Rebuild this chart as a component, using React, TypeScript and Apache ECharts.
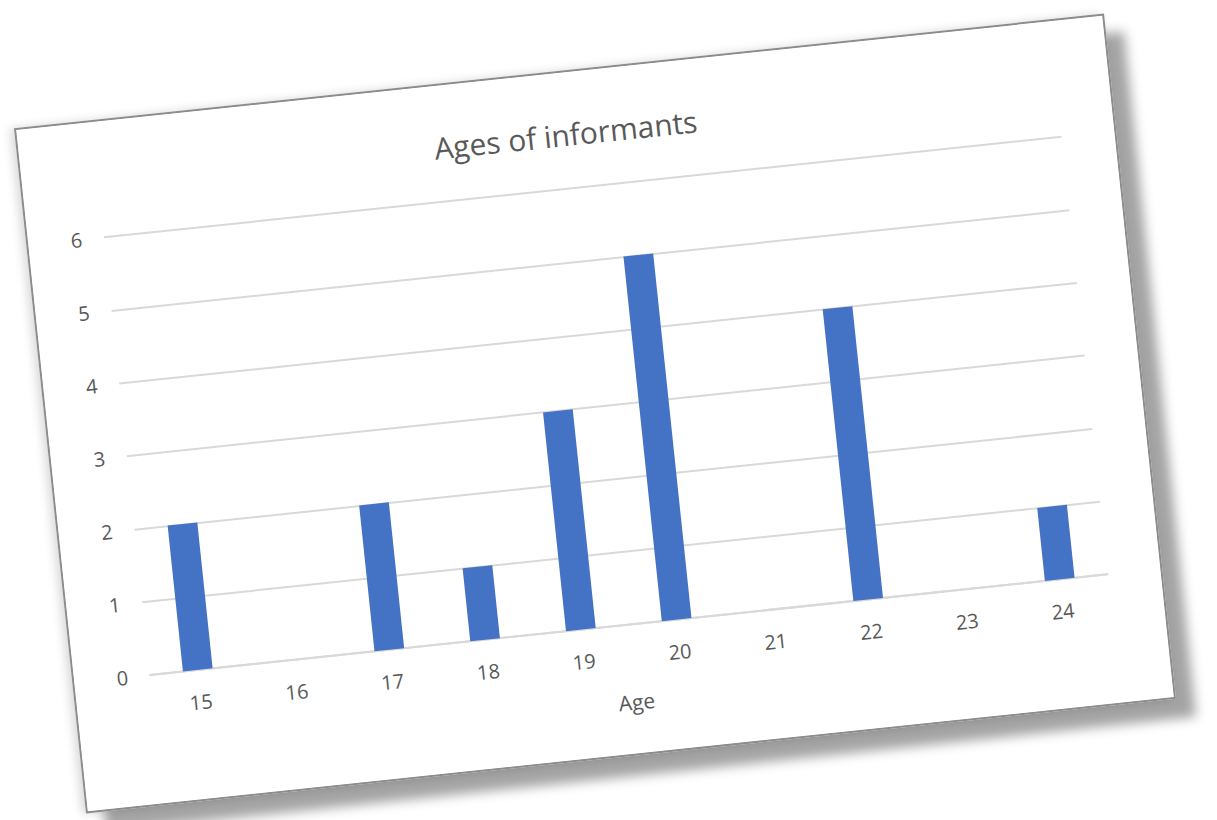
import React, { useEffect, useRef } from "react";
import * as echarts from "echarts";

const ages = ["15", "16", "17", "18", "19", "20", "21", "22", "23", "24"];
const counts = [2, 0, 2, 1, 3, 5, 0, 4, 0, 1];
const chartTitle = "Ages of informants";
const xName = "Age";

const FONT = "'Open Sans', 'Noto Sans', sans-serif";
const TEXT = "#595959";

export default function App() {
  const ref = useRef<HTMLDivElement>(null);
  useEffect(() => {
    if (!ref.current) return;
    const chart = echarts.init(ref.current, null, { renderer: "svg" });
    chart.setOption({
      animation: false,
      backgroundColor: "#ffffff",
      title: {
        text: chartTitle,
        left: "center",
        top: 42,
        textStyle: { fontFamily: FONT, fontSize: 30, fontWeight: "normal", color: TEXT },
      },
      grid: { left: 76, right: 53, top: 116, bottom: 129, containLabel: false },
      xAxis: {
        type: "category",
        data: ages,
        name: xName,
        nameLocation: "middle",
        nameGap: 67,
        nameTextStyle: { fontFamily: FONT, fontSize: 21, color: TEXT },
        axisLine: { show: true, lineStyle: { color: "#d9d9d9", width: 2 } },
        axisTick: { show: false },
        axisLabel: { fontFamily: FONT, fontSize: 20, color: TEXT, margin: 22 },
      },
      yAxis: {
        type: "value",
        min: 0,
        max: 6,
        interval: 1,
        axisLine: { show: false },
        axisTick: { show: false },
        axisLabel: { fontFamily: FONT, fontSize: 20, color: TEXT, margin: 22 },
        splitLine: { lineStyle: { color: "#d9d9d9", width: 2 } },
      },
      series: [
        {
          type: "bar",
          data: counts,
          barWidth: "31%",
          itemStyle: { color: "#4472C4" },
        },
      ],
    });
    return () => chart.dispose();
  }, []);

  return (
    <div
      style={{
        position: "absolute",
        left: 47,
        top: 69,
        width: 1096,
        height: 689,
        transform: "rotate(-6deg)",
        transformOrigin: "50% 50%",
        border: "2px solid #8c8c8c",
        boxSizing: "border-box",
        background: "#fff",
        boxShadow: "18px 20px 12px rgba(0,0,0,0.36), -4px 0px 10px rgba(0,0,0,0.15)",
      }}
    >
      <div ref={ref} style={{ width: 1092, height: 685 }} />
    </div>
  );
}
